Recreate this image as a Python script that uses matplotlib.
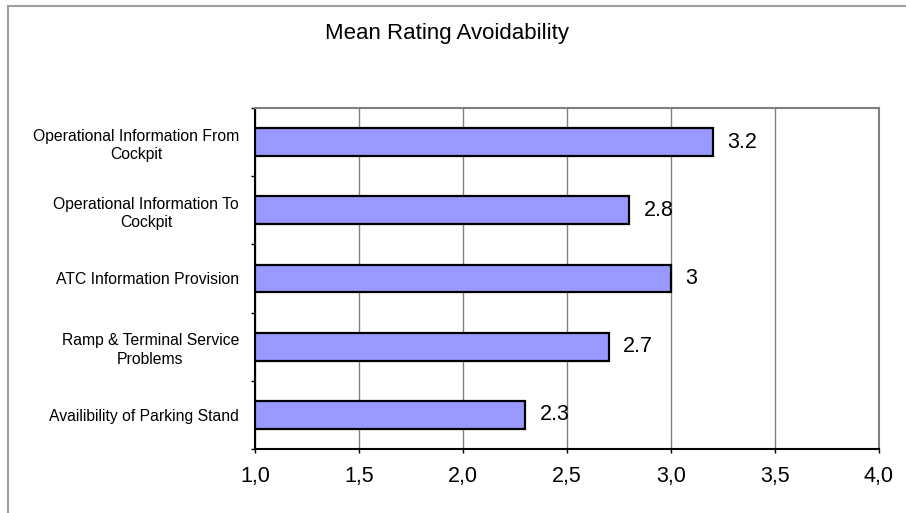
import matplotlib
matplotlib.use('Agg')
import matplotlib.pyplot as plt
from matplotlib.patches import Rectangle
from matplotlib.ticker import FuncFormatter, MultipleLocator

plt.rcParams['font.family'] = ['Liberation Sans', 'DejaVu Sans']

# --- data ---
categories = [
    'Operational Information From\nCockpit',
    'Operational Information To\nCockpit',
    'ATC Information Provision',
    'Ramp & Terminal Service\nProblems',
    'Availibility of Parking Stand',
]
mean_rating = [3.2, 2.8, 3.0, 2.7, 2.3]
base = 1.0

W, H = 906, 513
fig = plt.figure(figsize=(W / 100, H / 100), dpi=100)
fig.patch.set_facecolor('white')

# chart frame
fig.patches.append(Rectangle((7.5 / W, -0.1), 1.1, 1 - 5.5 / H + 0.1,
                             transform=fig.transFigure, fill=False,
                             edgecolor='#a0a0a0', linewidth=1.5))

ax = fig.add_axes([255 / W, 1 - 449 / H, (879 - 255) / W, (449 - 108) / H])

ypos = list(range(len(categories)))[::-1]
widths = [v - base for v in mean_rating]
ax.barh(ypos, widths, left=base, height=0.41, color='#9999ff',
        edgecolor='black', linewidth=1.6, zorder=3)

for y, v in zip(ypos, mean_rating):
    ax.text(v + 0.07, y, f'{v:g}', va='center', ha='left', fontsize=15.5, zorder=4)

ax.set_xlim(1.0, 4.0)
ax.set_ylim(-0.5, len(categories) - 0.5)
ax.xaxis.set_major_locator(MultipleLocator(0.5))
ax.xaxis.set_major_formatter(FuncFormatter(lambda x, _: f'{x:.1f}'.replace('.', ',')))
ax.grid(axis='x', color='#808080', linewidth=1, zorder=0)

ax.set_yticks(ypos)
ax.set_yticklabels(categories, multialignment='center', fontsize=11.3,
                   linespacing=1.3)
ax.set_yticks([i - 0.5 for i in range(len(categories) + 1)], minor=True)
ax.tick_params(axis='y', which='major', length=0, pad=11.5)
ax.tick_params(axis='y', which='minor', length=3, width=1, direction='out')
ax.tick_params(axis='x', length=3, width=1, direction='out', labelsize=15.5, pad=9)

for side in ('top', 'right'):
    ax.spines[side].set_color('#808080')
    ax.spines[side].set_linewidth(1.5)
for side in ('left', 'bottom'):
    ax.spines[side].set_color('black')
    ax.spines[side].set_linewidth(1.5)

fig.text(447 / W, 1 - 34 / H, 'Mean Rating Avoidability', ha='center',
         va='center', fontsize=16)

fig.savefig('out.png', dpi=100)
